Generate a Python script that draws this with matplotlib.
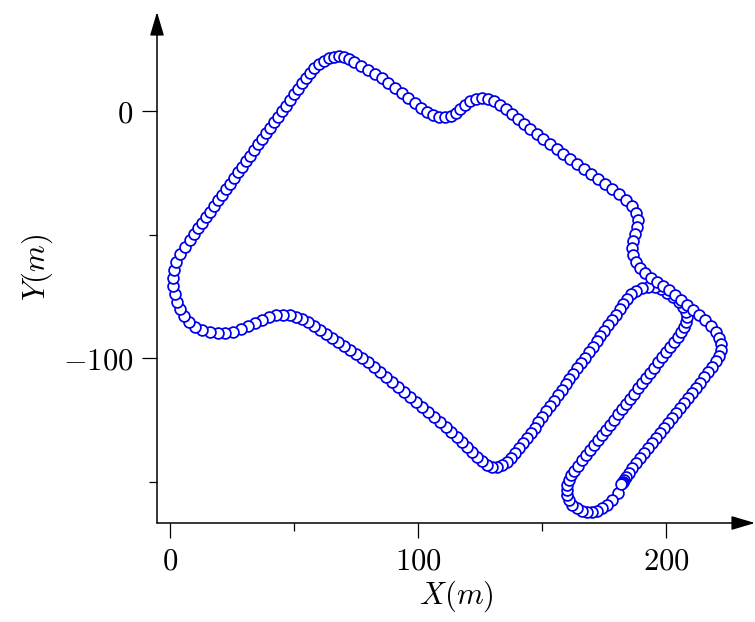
import numpy as np
import matplotlib.pyplot as plt

plt.rcParams['mathtext.fontset'] = 'cm'

# track points (m), in driving order
x_bottom_loop = [180.6, 178.2, 176.2, 174.2, 172.2, 170.2, 168.1, 166.1, 164.1, 162.1,
                 160.9, 160.1, 160.1, 160.1, 160.9, 161.7, 162.9]
y_bottom_loop = [-154.7, -157.5, -159.5, -160.7, -162.0, -162.4, -162.4, -162.0, -160.7, -159.5,
                 -157.5, -155.5, -153.5, -151.4, -149.4, -147.4, -145.8]

x_middle = [164.5, 166.1, 167.7, 169.3, 171.0, 172.6, 174.2, 175.8, 177.4, 179.0,
            180.6, 182.2, 183.9, 185.5, 187.1, 188.7, 190.3, 191.9, 193.5, 195.1,
            196.8, 198.4, 200.0, 201.6, 203.2, 204.8]
y_middle = [-143.7, -141.3, -139.3, -137.3, -135.2, -133.2, -131.2, -129.2, -127.1, -125.1,
            -122.7, -120.7, -118.6, -116.6, -114.6, -112.2, -110.1, -108.1, -106.1, -104.1,
            -101.6, -99.6, -97.6, -95.6, -93.5, -91.5]

x_turn = [206.0, 207.2, 208.1, 208.5, 208.1, 206.8, 205.2, 202.8, 200.4, 198.0,
          195.6, 192.7, 190.3, 187.9, 185.9, 184.3, 182.6]
y_turn = [-89.5, -87.5, -85.4, -83.4, -81.4, -79.4, -77.3, -75.3, -73.7, -72.1,
          -71.3, -71.3, -71.7, -72.9, -74.1, -76.1, -78.1]

x_left_leg = [181.4, 179.8, 178.2, 176.6, 175.0, 173.4, 172.2, 170.6, 168.9, 167.3,
              165.7, 164.1, 162.5, 160.9, 159.7, 158.1, 156.4, 154.8, 153.2, 151.6,
              150.0, 148.4]
y_left_leg = [-80.2, -82.6, -84.6, -86.6, -89.1, -91.1, -93.1, -95.6, -97.6, -100.0,
              -102.0, -104.1, -106.5, -108.5, -110.5, -113.0, -115.0, -117.4, -119.4, -121.5,
              -123.9, -125.9]

x_corner = [147.2, 145.6, 143.9, 142.3, 140.7, 139.1, 137.5, 135.9, 133.9, 131.8,
            129.8, 127.8, 125.8, 123.8]
y_corner = [-128.4, -130.4, -132.4, -134.4, -136.5, -138.5, -140.5, -142.1, -143.3, -144.1,
            -144.1, -143.3, -141.7, -140.1]

x_lower_edge = [121.8, 119.8, 117.7, 115.7, 113.3, 111.3, 108.9, 106.4, 104.0, 101.6,
                99.2, 96.8, 94.3, 91.9, 89.5, 87.1, 84.7, 82.3, 79.8, 77.4,
                75.0, 72.6, 70.2, 67.7, 65.3, 62.9, 60.5, 58.1, 55.6, 53.2,
                50.8, 48.4, 45.6, 42.7, 39.9, 37.1]
y_lower_edge = [-138.1, -136.0, -134.0, -132.0, -130.0, -127.9, -125.9, -123.9, -121.9, -119.9,
                -117.8, -115.8, -113.8, -111.8, -109.7, -107.7, -105.7, -103.7, -101.6, -100.0,
                -98.4, -96.8, -95.2, -93.5, -91.9, -90.3, -88.7, -87.1, -85.4, -84.2,
                -83.4, -82.6, -82.6, -82.6, -83.4, -84.6]

x_west = [34.3, 31.4, 28.6, 25.4, 22.2, 19.4, 16.1, 12.9, 10.1, 7.7,
          5.6, 4.0, 2.8, 2.0, 1.2, 1.2, 1.6, 2.4, 4.0, 6.0, 8.1]
y_west = [-85.8, -87.1, -88.3, -89.5, -89.9, -89.9, -89.5, -88.7, -87.5, -85.4,
          -83.0, -80.2, -77.3, -74.1, -70.9, -67.6, -64.4, -61.1, -57.9, -55.1, -52.2]

x_diagonal = [9.7, 11.3, 12.9, 14.5, 16.1, 17.7, 19.4, 21.0, 22.6, 24.2,
              25.8, 27.4, 29.0, 30.6, 32.3, 33.9, 35.5, 37.1, 38.7, 40.3,
              41.9, 43.5, 45.2, 46.8, 48.4, 50.0, 51.6, 53.2, 54.8, 56.4,
              58.1, 60.1, 62.1, 64.1, 66.1, 68.1, 70.2, 72.2, 74.2]
y_diagonal = [-49.8, -47.4, -45.3, -42.9, -40.9, -38.5, -36.0, -34.0, -31.6, -29.6,
              -27.1, -24.7, -22.7, -20.2, -18.2, -15.8, -13.4, -11.3, -8.9, -6.9,
              -4.5, -2.4, 0.0, 2.0, 4.5, 6.9, 8.9, 11.3, 13.4, 15.4,
              17.4, 19.0, 20.2, 21.5, 21.9, 22.3, 21.9, 21.1, 19.8]

x_top = [77.0, 79.8, 82.7, 85.5, 87.9, 90.7, 93.5, 96.0, 98.8, 101.2,
         103.6, 106.0, 108.5, 110.9, 113.3, 115.3, 116.9, 118.9, 121.0, 123.4,
         125.8, 128.2, 130.6, 133.1, 135.5]
y_top = [18.2, 16.6, 15.0, 13.4, 11.3, 9.3, 7.3, 5.3, 3.2, 1.2,
         -0.4, -1.6, -2.4, -2.4, -2.0, -0.8, 0.8, 2.4, 4.0, 4.9,
         5.3, 4.9, 4.0, 2.4, 0.8]

x_east = [137.9, 140.3, 142.7, 145.2, 148.0, 150.4, 153.2, 156.0, 158.5, 161.3,
          164.1, 166.9, 169.7, 172.6, 175.4, 178.2, 181.0, 183.9, 186.3, 187.9,
          188.7, 188.3, 187.5, 186.7, 186.3, 186.7, 187.9, 189.5, 191.5, 193.9,
          196.4, 198.8, 201.2]
y_east = [-1.2, -3.2, -5.3, -7.3, -9.3, -11.3, -13.4, -15.4, -17.4, -19.4,
          -21.5, -23.5, -25.5, -27.5, -29.6, -31.6, -33.6, -36.0, -38.5, -41.3,
          -44.1, -47.0, -49.8, -52.6, -55.5, -58.3, -61.1, -63.6, -65.6, -67.6,
          -69.2, -70.9, -72.5]

x_outer = [203.6, 206.0, 208.5, 210.9, 213.3, 215.7, 218.1, 220.2, 221.4, 222.2,
           222.2, 221.4, 220.2, 218.5, 216.9, 215.3, 213.7, 212.1, 210.5, 208.9,
           207.2, 205.6, 204.0, 202.4, 200.8, 199.2, 197.6, 196.0, 194.3, 192.7,
           191.1, 189.5, 187.9, 186.3, 185.1, 183.9, 183.1, 182.6, 182.2, 181.9]
y_outer = [-74.5, -76.5, -78.6, -80.6, -82.6, -84.6, -87.1, -89.5, -91.9, -94.3,
           -96.8, -99.2, -101.2, -103.7, -105.7, -107.7, -110.1, -112.2, -114.2, -116.2,
           -118.2, -120.3, -122.3, -124.3, -126.3, -128.4, -130.4, -132.4, -134.4, -136.5,
           -138.5, -140.5, -142.5, -144.5, -146.6, -148.2, -149.4, -150.2, -150.6, -151.0]

x_ticks = [0, 100, 200]
x_minor = [50, 150]
y_ticks = [-100, 0]
y_minor = [-150, -50]

track_x = np.concatenate([x_bottom_loop, x_middle, x_turn, x_left_leg, x_corner,
                          x_lower_edge, x_west, x_diagonal, x_top, x_east, x_outer])
track_y = np.concatenate([y_bottom_loop, y_middle, y_turn, y_left_leg, y_corner,
                          y_lower_edge, y_west, y_diagonal, y_top, y_east, y_outer])

fig = plt.figure(figsize=(7.55, 6.22), dpi=100)
ax = fig.add_axes([157 / 755, 99 / 622, 598 / 755, 511 / 622])

ax.plot(track_x, track_y, 'o', color='#0000ee', mfc='white', ms=7.8, mew=1.25, linestyle='none')

ax.set_xlim(-5.2, 235.9)
ax.set_ylim(-166.8, 40.1)

for s in ax.spines.values():
    s.set_visible(False)

arrow = dict(arrowstyle='-|>,head_length=1.45,head_width=0.43', mutation_scale=10,
             color='k', lw=1.1, shrinkA=0, shrinkB=0)
ax.annotate('', xy=(1, 0), xytext=(0, 0), xycoords='axes fraction', arrowprops=arrow)
ax.annotate('', xy=(0, 1), xytext=(0, 0), xycoords='axes fraction', arrowprops=arrow)

ax.set_xticks(x_ticks, [f'${v}$' for v in x_ticks])
ax.set_yticks(y_ticks, [f'${v}$' for v in y_ticks])
ax.set_xticks(x_minor, minor=True)
ax.set_yticks(y_minor, minor=True)
ax.tick_params(which='major', direction='out', length=11, width=0.9, labelsize=22, pad=6)
ax.tick_params(which='minor', direction='out', length=6, width=0.9)

ax.set_xlabel(r'$X(m)$', fontsize=22, labelpad=2)
ax.set_ylabel(r'$Y(m)$', fontsize=22, labelpad=6)

fig.savefig('out.png', dpi=100)
